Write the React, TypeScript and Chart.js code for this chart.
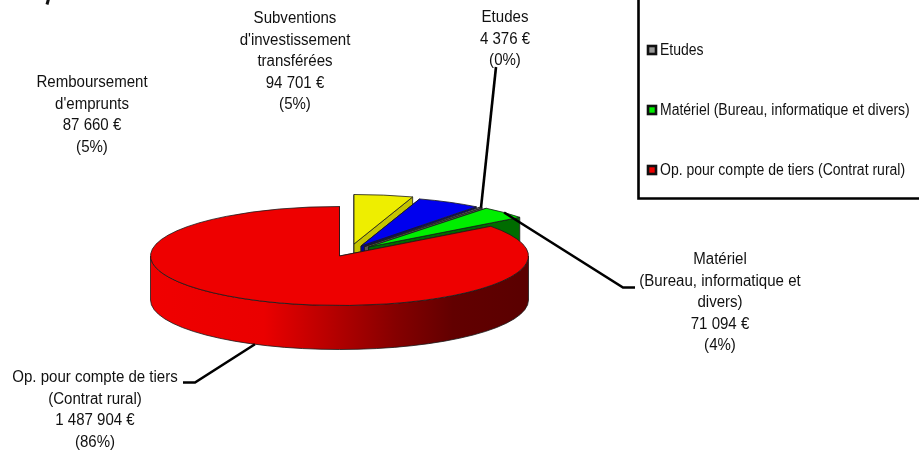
import React, { useEffect, useRef } from "react";
import { Chart, registerables } from "chart.js";

Chart.register(...registerables);

const categories = [
  "Remboursement d'emprunts",
  "Subventions d'investissement transférées",
  "Etudes",
  "Matériel (Bureau, informatique et divers)",
  "Op. pour compte de tiers (Contrat rural)",
];
const values = [87660, 94701, 4376, 71094, 1487904];
const valueLabels = ["87 660 €", "94 701 €", "4 376 €", "71 094 €", "1 487 904 €"];
const percentLabels = ["(5%)", "(5%)", "(0%)", "(4%)", "(86%)"];
const wrappedNames = [
  ["Remboursement", "d'emprunts"],
  ["Subventions", "d'investissement", "transférées"],
  ["Etudes"],
  ["Matériel", "(Bureau, informatique et", "divers)"],
  ["Op. pour compte de tiers", "(Contrat rural)"],
];

const topColors = ["#eeee00", "#0000ee", "#999999", "#00ee00", "#ee0000"];
const wallColors = ["#c4c400", "#000099", "#555555", "#006c00", "#ee0000"];
const legendFills = ["#eeee00", "#0000ee", "#999999", "#00ee00", "#ee0000"];

const FONT = '16px "Liberation Sans", Arial, sans-serif';
const LABEL_SQUEEZE = 0.94;
const LEGEND_SQUEEZE = 0.875;
const TEXT = "#111111";
const TILT = 49.5 / 189;
const DEPTH = 44;
const LINE_H = 21.5;
const sliceShift = [
  [14.5, -12],
  [21.5, -10],
  [25, -9.5],
  [29, -9],
  [0, 0],
];
const labelBoxes = [
  { cx: 92, y: 83 },
  { cx: 295, y: 19 },
  { cx: 505, y: 18 },
  { cx: 720, y: 260 },
  { cx: 95, y: 378 },
];
const leaders = [
  { index: 2, bottom: false, path: [[496, 67]] },
  { index: 3, bottom: false, path: [[623, 287.5], [635, 287.5]] },
  { index: 4, bottom: true, path: [[195, 382.5], [183, 382.5]] },
];

const geometry = (arc: any, i: number) => {
  const p = arc.getProps(["x", "y", "startAngle", "endAngle", "outerRadius"], true);
  const [dx, dy] = sliceShift[i];
  return {
    cx: p.x + dx,
    cy: p.y + dy,
    rx: p.outerRadius,
    ry: p.outerRadius * TILT,
    a0: p.startAngle,
    a1: p.endAngle,
  };
};

const squeezedText = (ctx: CanvasRenderingContext2D, s: string, x: number, y: number, k: number) => {
  ctx.fillText(s, x, y, ctx.measureText(s).width * k);
};

const pie3d = {
  id: "pie3d",
  beforeDatasetDraw(chart: any) {
    const ctx: CanvasRenderingContext2D = chart.ctx;
    const arcs = chart.getDatasetMeta(0).data;
    ctx.save();
    ctx.lineJoin = "round";
    arcs.forEach((arc: any, i: number) => {
      const { cx, cy, rx, ry, a0, a1 } = geometry(arc, i);
      const at = (a: number) => [cx + rx * Math.cos(a), cy + ry * Math.sin(a)];
      ctx.strokeStyle = "#1a1a1a";
      ctx.lineWidth = 0.8;
      // cut faces
      [a0, a1].forEach((a) => {
        const [px, py] = at(a);
        ctx.beginPath();
        ctx.moveTo(cx, cy);
        ctx.lineTo(px, py);
        ctx.lineTo(px, py + DEPTH);
        ctx.lineTo(cx, cy + DEPTH);
        ctx.closePath();
        ctx.fillStyle = wallColors[i];
        ctx.fill();
        ctx.stroke();
      });
      // visible outer wall (front half)
      const w0 = Math.max(a0, 0);
      const w1 = Math.min(a1, Math.PI);
      if (w1 > w0) {
        const g = ctx.createLinearGradient(cx - rx, 0, cx + rx, 0);
        g.addColorStop(0, "#f00000");
        g.addColorStop(0.3, "#ea0000");
        g.addColorStop(0.5, "#b00000");
        g.addColorStop(0.65, "#850000");
        g.addColorStop(0.8, "#620000");
        g.addColorStop(1, "#5a0000");
        ctx.beginPath();
        ctx.ellipse(cx, cy, rx, ry, 0, w0, w1);
        ctx.ellipse(cx, cy + DEPTH, rx, ry, 0, w1, w0, true);
        ctx.closePath();
        ctx.fillStyle = g;
        ctx.fill();
        ctx.stroke();
      }
      // top face
      ctx.beginPath();
      ctx.moveTo(cx, cy);
      ctx.ellipse(cx, cy, rx, ry, 0, a0, a1);
      ctx.closePath();
      ctx.fillStyle = topColors[i];
      ctx.fill();
      ctx.stroke();
    });
    ctx.restore();
    return false;
  },
  afterDatasetsDraw(chart: any) {
    const ctx: CanvasRenderingContext2D = chart.ctx;
    const arcs = chart.getDatasetMeta(0).data;
    ctx.save();
    // leader lines start on the slice they name
    ctx.strokeStyle = "#000000";
    ctx.lineWidth = 2.6;
    leaders.forEach(({ index, bottom, path }) => {
      const { cx, cy, rx, ry, a0, a1 } = geometry(arcs[index], index);
      const mid = (a0 + a1) / 2;
      ctx.beginPath();
      ctx.moveTo(cx + rx * Math.cos(mid), cy + ry * Math.sin(mid) + (bottom ? DEPTH : 0));
      path.forEach(([x, y]) => ctx.lineTo(x, y));
      ctx.stroke();
    });

    // slice labels
    ctx.font = FONT;
    ctx.fillStyle = TEXT;
    ctx.textAlign = "center";
    ctx.textBaseline = "middle";
    labelBoxes.forEach(({ cx, y }, i) => {
      [...wrappedNames[i], valueLabels[i], percentLabels[i]].forEach((line, k) => {
        squeezedText(ctx, line, cx, y + k * LINE_H, LABEL_SQUEEZE);
      });
    });

    // legend box (its top runs off the picture)
    ctx.strokeStyle = "#000000";
    ctx.lineWidth = 2.6;
    ctx.beginPath();
    ctx.moveTo(638.5, -5);
    ctx.lineTo(638.5, 198.5);
    ctx.lineTo(925, 198.5);
    ctx.stroke();
    ctx.textAlign = "left";
    categories.forEach((name, i) => {
      const y = 170 - (categories.length - 1 - i) * 60;
      ctx.fillStyle = legendFills[i];
      ctx.strokeStyle = "#111111";
      ctx.lineWidth = 2.6;
      ctx.fillRect(648, y - 4, 8, 8);
      ctx.strokeRect(648, y - 4, 8, 8);
      ctx.fillStyle = TEXT;
      squeezedText(ctx, name, 660, y + 0.5, LEGEND_SQUEEZE);
    });

    // remainder of the cropped heading
    ctx.strokeStyle = "#111111";
    ctx.lineWidth = 3;
    ctx.beginPath();
    ctx.moveTo(48.5, -1);
    ctx.lineTo(47, 4.5);
    ctx.stroke();
    ctx.restore();
  },
};

export default function App() {
  const ref = useRef<HTMLCanvasElement>(null);
  useEffect(() => {
    if (!ref.current) return;
    const chart = new Chart(ref.current, {
      type: "pie",
      data: {
        labels: categories,
        datasets: [{ data: values, backgroundColor: topColors, borderWidth: 0 }],
      },
      options: {
        animation: false,
        responsive: false,
        rotation: 0,
        layout: { padding: { left: 150.5, right: 390.5, top: 67, bottom: 7 } },
        plugins: { legend: { display: false }, tooltip: { enabled: false } },
      },
      plugins: [pie3d],
    } as any);
    return () => chart.destroy();
  }, []);
  return (
    <div style={{ position: "fixed", left: 0, top: 0, width: 919, height: 452, background: "#fff" }}>
      <canvas ref={ref} width={919} height={452} style={{ display: "block" }} />
    </div>
  );
}
